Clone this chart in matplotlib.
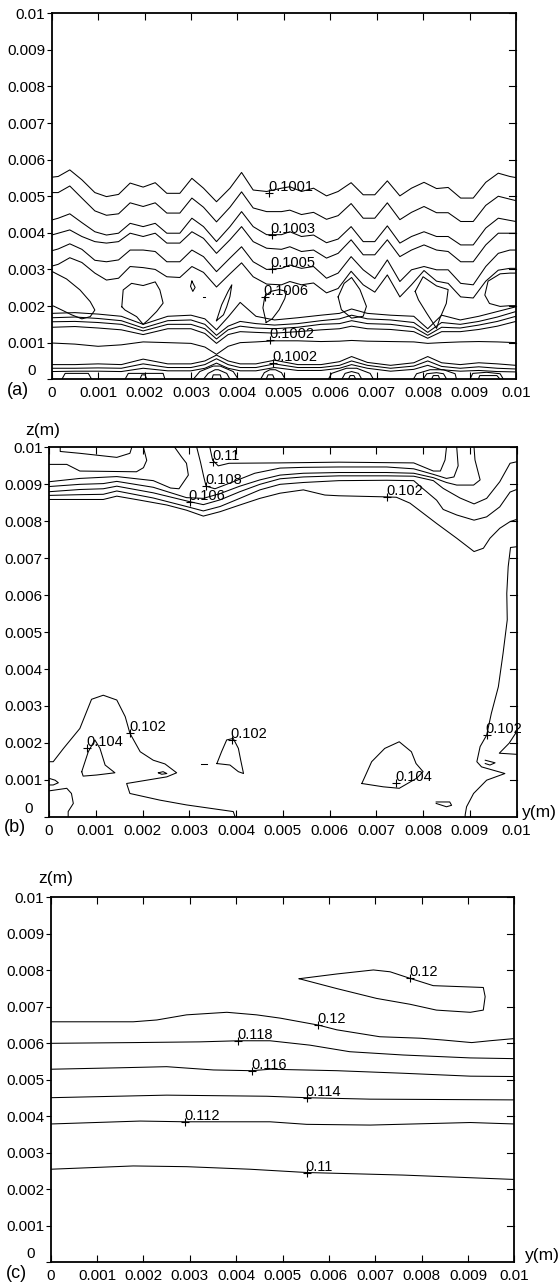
import matplotlib
matplotlib.use('Agg')
import matplotlib.pyplot as plt
import numpy as np

plt.rcParams['font.family'] = ['Liberation Sans', 'DejaVu Sans']

# all coordinates in mm, converted to m when drawn
ticks = [0, 0.001, 0.002, 0.003, 0.004, 0.005, 0.006, 0.007, 0.008, 0.009, 0.01]
tick_labels = ['0', '0.001', '0.002', '0.003', '0.004', '0.005',
               '0.006', '0.007', '0.008', '0.009', '0.01']

# ---------------- panel (a) ----------------
a_y = [0, 0.14, 0.39, 0.65, 0.93, 1.18, 1.44, 1.69, 1.97, 2.23,
       2.48, 2.76, 3.02, 3.27, 3.55, 3.84, 4.09, 4.34, 4.63, 4.95,
       5.13, 5.38, 5.64, 5.92, 6.17, 6.45, 6.71, 6.96, 7.23, 7.50,
       7.75, 8.02, 8.29, 8.54, 8.81, 9.08, 9.35, 9.62, 9.87, 10]
a_z1 = [5.52, 5.54, 5.72, 5.45, 5.10, 4.99, 5.05, 5.36, 5.25, 5.37,
        5.08, 5.08, 5.49, 5.22, 4.85, 5.22, 5.65, 5.17, 5.13, 5.22,
        5.26, 5.13, 5.22, 5.01, 5.13, 5.37, 5.04, 5.04, 5.42, 5.01,
        5.22, 5.38, 5.21, 5.24, 4.95, 4.95, 5.38, 5.63, 5.54, 5.51]
a_z2 = [5.10, 5.10, 5.28, 4.95, 4.60, 4.48, 4.52, 4.82, 4.72, 4.82,
        4.54, 4.54, 4.95, 4.70, 4.30, 4.70, 5.12, 4.68, 4.58, 4.58,
        4.62, 4.50, 4.56, 4.37, 4.47, 4.80, 4.40, 4.40, 4.82, 4.36,
        4.56, 4.72, 4.55, 4.55, 4.31, 4.31, 4.75, 5.00, 4.92, 4.88]
a_z3 = [4.35, 4.40, 4.52, 4.28, 4.03, 3.94, 3.99, 4.26, 4.17, 4.26,
        3.99, 3.99, 4.40, 4.17, 3.76, 4.17, 4.58, 4.17, 3.95, 3.95,
        4.03, 3.90, 3.94, 3.73, 3.83, 4.17, 3.76, 3.76, 4.19, 3.72,
        3.90, 4.03, 3.90, 3.90, 3.67, 3.67, 4.13, 4.40, 4.34, 4.31]
a_z4 = [3.94, 3.99, 4.08, 3.90, 3.76, 3.72, 3.76, 3.99, 3.90, 3.99,
        3.72, 3.72, 4.03, 3.85, 3.44, 3.81, 4.17, 3.76, 3.58, 3.55,
        3.62, 3.49, 3.53, 3.31, 3.44, 3.81, 3.40, 3.40, 3.81, 3.35,
        3.53, 3.67, 3.53, 3.49, 3.21, 3.21, 3.67, 3.99, 3.99, 3.99]
a_z5 = [3.51, 3.56, 3.70, 3.55, 3.25, 3.21, 3.26, 3.53, 3.53, 3.49,
        3.21, 3.21, 3.53, 3.35, 2.94, 3.31, 3.62, 3.21, 3.00, 3.03,
        3.12, 3.03, 3.08, 2.76, 2.90, 3.35, 2.99, 2.75, 3.26, 2.67,
        2.99, 3.08, 2.99, 2.99, 2.62, 2.58, 3.08, 3.44, 3.53, 3.53]
a_z6 = [3.09, 3.14, 3.32, 3.19, 2.90, 2.71, 2.76, 3.08, 3.05, 3.00,
        2.80, 2.78, 3.08, 2.92, 2.52, 2.88, 3.18, 2.80, 2.60, 2.58,
        2.67, 2.58, 2.63, 2.36, 2.48, 2.95, 2.58, 2.38, 2.85, 2.25,
        2.58, 2.97, 2.68, 2.62, 2.25, 2.22, 2.68, 2.98, 3.03, 3.03]

# lower band, sampled on a coarser set of positions
b_y = [0, 0.5, 1.0, 1.5, 1.97, 2.5, 3.0, 3.3, 3.55, 3.8, 4.06, 4.4, 4.8,
       5.3, 5.8, 6.2, 6.46, 6.8, 7.3, 7.8, 8.1, 8.4, 8.8, 9.2, 9.6, 10]
band1 = [1.80, 1.82, 1.78, 1.72, 1.50, 1.72, 1.75, 1.65, 1.35, 1.70, 2.10, 1.72, 1.62,
         1.68, 1.75, 1.80, 1.92, 1.80, 1.75, 1.72, 1.38, 1.75, 1.62, 1.72, 1.85, 1.98]
band2 = [1.68, 1.70, 1.66, 1.60, 1.40, 1.60, 1.62, 1.50, 1.20, 1.45, 1.58, 1.52, 1.48,
         1.52, 1.60, 1.65, 1.75, 1.65, 1.62, 1.55, 1.28, 1.55, 1.50, 1.58, 1.70, 1.85]
band3 = [1.57, 1.58, 1.55, 1.50, 1.32, 1.50, 1.50, 1.38, 1.10, 1.35, 1.45, 1.40, 1.38,
         1.42, 1.50, 1.52, 1.60, 1.52, 1.50, 1.42, 1.20, 1.42, 1.40, 1.48, 1.58, 1.72]
band4 = [1.42, 1.44, 1.40, 1.35, 1.22, 1.38, 1.38, 1.25, 0.98, 1.22, 1.30, 1.28, 1.26,
         1.30, 1.35, 1.38, 1.45, 1.38, 1.36, 1.30, 1.12, 1.30, 1.30, 1.36, 1.45, 1.58]
band5 = [0.99, 0.96, 0.90, 0.94, 1.02, 1.00, 0.98, 0.88, 0.68, 0.90, 1.00, 1.02, 1.05,
         1.05, 1.03, 1.04, 1.06, 1.04, 1.03, 1.02, 0.98, 1.00, 1.02, 1.03, 1.02, 1.00]
bot1 = [0.40, 0.40, 0.42, 0.40, 0.55, 0.42, 0.42, 0.50, 0.66, 0.50, 0.42, 0.42, 0.52,
        0.40, 0.40, 0.48, 0.62, 0.46, 0.38, 0.45, 0.62, 0.45, 0.40, 0.45, 0.42, 0.38]
bot2 = [0.30, 0.30, 0.31, 0.30, 0.42, 0.32, 0.32, 0.40, 0.56, 0.40, 0.32, 0.32, 0.42,
        0.32, 0.32, 0.38, 0.50, 0.38, 0.30, 0.36, 0.50, 0.35, 0.30, 0.34, 0.30, 0.28]
bot3 = [0.21, 0.22, 0.22, 0.21, 0.30, 0.23, 0.23, 0.30, 0.44, 0.30, 0.23, 0.23, 0.32,
        0.24, 0.24, 0.30, 0.40, 0.30, 0.22, 0.27, 0.38, 0.26, 0.22, 0.24, 0.21, 0.20]

# closed pieces between the bands
a_loops = [
    ([0, 0.32, 0.61, 0.83, 0.93, 0.83, 0.65, 0.43, 0.22, 0.04, 0],
     [2.95, 2.74, 2.44, 2.12, 1.89, 1.71, 1.65, 1.76, 1.89, 2.00, 2.00]),
    ([1.51, 1.54, 1.72, 1.97, 2.23, 2.33, 2.40, 2.26, 2.08, 1.97, 1.83, 1.58, 1.51],
     [1.98, 2.44, 2.62, 2.56, 2.66, 2.44, 2.08, 1.85, 1.62, 1.50, 1.71, 1.89, 1.98]),
    ([3.02, 3.09, 3.04, 2.99, 3.02], [2.68, 2.51, 2.40, 2.54, 2.68]),
    ([3.26, 3.30], [2.24, 2.24]),
    ([3.55, 3.66, 3.80, 3.88, 3.84, 3.77, 3.70, 3.55],
     [1.60, 2.03, 2.40, 2.58, 2.26, 1.98, 1.76, 1.60]),
    ([4.62, 4.55, 4.59, 4.72, 4.90, 5.06, 5.02, 4.90, 4.75, 4.62],
     [1.55, 1.95, 2.26, 2.40, 2.45, 2.40, 2.20, 1.90, 1.65, 1.55]),
    ([6.17, 6.30, 6.46, 6.64, 6.78, 6.71, 6.46, 6.24, 6.17],
     [2.25, 2.62, 2.78, 2.45, 1.99, 1.72, 1.67, 1.90, 2.25]),
    ([7.83, 8.00, 8.29, 8.54, 8.50, 8.36, 8.29, 8.08, 7.90, 7.83],
     [2.40, 2.80, 2.55, 2.45, 2.07, 1.66, 1.39, 1.80, 2.17, 2.40]),
    ([10, 9.87, 9.66, 9.40, 9.33, 9.43, 9.66, 9.87, 10],
     [2.90, 2.90, 2.88, 2.68, 2.30, 2.07, 1.99, 2.01, 2.01]),
]
# small shapes standing on the bottom wall
a_floor = [
    ([0.22, 0.29, 0.79, 0.86], [0, 0.16, 0.16, 0]),
    ([1.58, 1.65, 2.40, 2.44], [0, 0.16, 0.16, 0]),
    ([1.90, 1.94, 2.01, 2.05], [0, 0.12, 0.12, 0]),
    ([3.05, 3.19, 3.48, 3.63, 3.91, 4.02], [0, 0.21, 0.36, 0.36, 0.21, 0]),
    ([3.27, 3.37, 3.52, 3.59, 3.77, 3.84], [0, 0.16, 0.26, 0.26, 0.16, 0]),
    ([3.45, 3.48, 3.63, 3.66], [0, 0.12, 0.12, 0]),
    ([4.50, 4.58, 4.70, 4.82, 4.95, 5.03], [0, 0.18, 0.26, 0.26, 0.18, 0]),
    ([4.62, 4.66, 4.76, 4.80], [0, 0.12, 0.12, 0]),
    ([5.96, 6.03, 6.35, 6.57, 6.86, 6.93], [0, 0.16, 0.30, 0.30, 0.16, 0]),
    ([6.25, 6.32, 6.46, 6.61, 6.68], [0, 0.16, 0.21, 0.16, 0]),
    ([6.39, 6.43, 6.51, 6.55], [0, 0.10, 0.10, 0]),
    ([7.79, 7.86, 8.15, 8.44, 8.69, 8.72], [0, 0.15, 0.26, 0.26, 0.15, 0]),
    ([8.00, 8.08, 8.29, 8.44, 8.51], [0, 0.15, 0.18, 0.15, 0]),
    ([8.18, 8.22, 8.33, 8.36], [0, 0.10, 0.10, 0]),
    ([9.01, 9.07, 9.37, 9.66, 9.73], [0, 0.16, 0.19, 0.15, 0]),
    ([9.19, 9.22, 9.59, 9.66], [0, 0.10, 0.10, 0]),
]
a_lab_y = [4.69, 4.74, 4.74, 4.59, 4.71, 4.77]
a_lab_z = [5.10, 3.95, 3.00, 2.26, 1.06, 0.44]
a_lab_val = [0.1001, 0.1003, 0.1005, 0.1006, 0.1002, 0.1002]

# ---------------- panel (b) ----------------
b_tl_small = ([0.24, 0.24, 0.66, 1.45, 1.73, 1.77], [10, 9.89, 9.84, 9.73, 9.84, 10])
b_tl = ([0, 0.38, 0.66, 1.87, 2.02, 2.09, 2.02], [9.54, 9.54, 9.36, 9.34, 9.45, 9.65, 10])
b_t3 = ([0, 0.66, 1.45, 2.23, 2.60, 2.78, 2.98, 2.94, 2.83, 2.69],
        [9.07, 9.16, 9.21, 9.10, 8.90, 8.88, 9.25, 9.57, 9.75, 10])
b_011 = ([3.44, 3.50, 3.62, 3.85, 4.90, 6.20, 7.80, 8.22, 8.37, 8.47, 8.50],
         [10, 9.65, 9.50, 9.57, 9.58, 9.60, 9.58, 9.36, 9.36, 9.66, 10])
b_0108 = ([3.16, 3.24, 3.31, 3.36, 3.55, 3.90, 4.40, 4.94, 5.44, 6.20, 7.22, 7.80, 8.22,
           8.50, 8.66, 8.75, 8.72],
          [10, 9.60, 9.20, 8.95, 8.88, 9.05, 9.30, 9.44, 9.46, 9.47, 9.47, 9.42, 9.27,
           9.16, 9.20, 9.50, 10])
b_la = ([0, 0.66, 1.16, 1.45, 2.23, 2.94, 3.30, 3.66, 4.08, 4.51, 4.94, 5.44, 6.20, 7.22,
         7.80, 8.22, 8.50, 8.72, 9.08, 9.22, 9.11, 9.09],
        [8.94, 9.00, 9.02, 9.08, 8.92, 8.64, 8.62, 8.75, 8.95, 9.12, 9.25, 9.30, 9.32, 9.32,
         9.30, 9.18, 9.05, 8.98, 8.98, 9.12, 9.66, 10])
b_lb = ([0, 0.66, 1.16, 1.45, 2.23, 3.01, 3.30, 3.66, 4.08, 4.51, 4.94, 5.44, 6.20, 7.22,
         7.80, 8.22, 8.43, 8.79, 9.09, 9.36, 9.64, 9.86, 10],
        [8.80, 8.86, 8.88, 8.95, 8.77, 8.53, 8.45, 8.58, 8.80, 9.00, 9.15, 9.20, 9.23, 9.23,
         9.22, 9.10, 8.89, 8.63, 8.47, 8.62, 9.07, 9.57, 9.61])
b_lc = ([0, 0.66, 1.16, 1.45, 2.23, 2.94, 3.30, 3.66, 4.08, 4.51, 4.94, 5.44, 6.20, 7.22,
         7.80, 8.00, 8.29, 8.43, 8.72, 9.09, 9.36, 9.64, 9.86, 10],
        [8.70, 8.72, 8.73, 8.82, 8.63, 8.40, 8.28, 8.40, 8.62, 8.85, 9.00, 9.05, 9.10, 9.11,
         9.10, 8.88, 8.57, 8.32, 8.17, 8.03, 8.12, 8.39, 8.79, 8.86])
b_0102 = ([0, 1.16, 1.45, 1.95, 2.52, 2.94, 3.30, 3.66, 4.08, 4.51, 4.94, 5.44, 5.90, 6.20,
           7.22, 7.43, 7.72, 8.29, 8.72, 9.09, 9.29, 9.43, 9.64, 9.86, 10],
          [8.59, 8.59, 8.68, 8.57, 8.44, 8.30, 8.14, 8.26, 8.44, 8.62, 8.76, 8.85, 8.71, 8.69,
           8.66, 8.65, 8.49, 7.94, 7.54, 7.18, 7.27, 7.54, 7.81, 7.99, 8.05])
b_right = ([10, 9.87, 9.82, 9.79, 9.80, 9.71, 9.61, 9.46, 9.36, 9.22, 9.15, 9.25, 9.75,
            9.36, 9.08, 8.93, 8.90, 8.90],
           [7.31, 7.29, 6.77, 6.05, 5.33, 4.42, 3.52, 2.80, 2.21, 1.90, 1.49, 1.35, 1.17,
            0.99, 0.63, 0.27, 0.05, 0])
b_hump = ([0, 0.09, 0.31, 0.66, 0.91, 1.16, 1.45, 1.63, 1.73, 1.95, 2.23, 2.48, 2.73, 2.52,
           1.66, 1.73, 2.37, 2.94, 3.94, 3.98],
          [1.49, 1.49, 1.85, 2.39, 3.18, 3.29, 3.16, 2.71, 2.26, 1.76, 1.53, 1.43, 1.19, 1.08,
           0.90, 0.63, 0.45, 0.32, 0.14, 0])
b_loops = [
    ([0.70, 0.84, 0.98, 1.09, 1.20, 1.41, 1.02, 0.73, 0.70],
     [1.22, 1.76, 2.08, 1.85, 1.40, 1.19, 1.13, 1.10, 1.22]),
    ([2.34, 2.44, 2.52, 2.41, 2.34], [1.19, 1.22, 1.17, 1.15, 1.19]),
    ([0, 0.13, 0.20, 0.09, 0], [1.04, 0.99, 0.92, 0.86, 0.86]),
    ([0, 0.38, 0.48, 0.52, 0.41, 0.41], [0.70, 0.77, 0.63, 0.36, 0.14, 0]),
    ([3.26, 3.37], [1.44, 1.44]),
    ([3.59, 3.69, 3.80, 3.94, 4.05, 4.10, 4.16, 4.05, 3.87, 3.59],
     [1.44, 1.76, 2.08, 2.12, 1.85, 1.53, 1.17, 1.22, 1.40, 1.44]),
    ([6.69, 6.90, 7.18, 7.49, 7.75, 7.85, 8.00, 7.86, 7.49, 7.15, 6.69],
     [0.90, 1.49, 1.85, 2.03, 1.76, 1.44, 1.22, 1.04, 0.77, 0.81, 0.90]),
    ([8.28, 8.57, 8.61, 8.50, 8.28], [0.40, 0.40, 0.31, 0.27, 0.36]),
    ([9.33, 9.54, 9.43, 9.33], [1.53, 1.46, 1.40, 1.44]),
    ([10, 9.84, 9.63, 10], [2.30, 1.99, 1.72, 1.69]),
]
b_lab_y = [3.51, 3.36, 3.01, 7.23, 0.82, 1.73, 3.91, 7.43, 9.36]
b_lab_z = [9.61, 8.95, 8.53, 8.66, 1.87, 2.26, 2.07, 0.92, 2.21]
b_lab_val = [0.11, 0.108, 0.106, 0.102, 0.104, 0.102, 0.102, 0.104, 0.102]

# ---------------- panel (c) ----------------
c_0120a = ([0, 1.78, 2.29, 2.93, 3.80, 4.44, 4.95, 5.77, 6.17, 7.10, 7.97, 8.47, 9.08, 9.47, 10],
           [6.59, 6.59, 6.64, 6.78, 6.85, 6.78, 6.69, 6.50, 6.37, 6.18, 6.14, 6.09, 6.02, 6.07, 6.13])
c_0118 = ([0, 1.78, 3.22, 4.05, 4.73, 5.59, 6.45, 7.60, 9.05, 10],
          [6.00, 6.02, 6.04, 6.07, 6.07, 5.95, 5.77, 5.68, 5.60, 5.58])
c_0116 = ([0, 1.50, 2.50, 3.51, 4.34, 4.73, 6.17, 7.60, 9.05, 10],
          [5.29, 5.33, 5.36, 5.27, 5.25, 5.29, 5.25, 5.18, 5.10, 5.09])
c_0114 = ([0, 2.50, 4.66, 5.52, 6.89, 10],
          [4.51, 4.58, 4.55, 4.51, 4.47, 4.45])
c_0112 = ([0, 1.93, 2.90, 4.73, 5.52, 6.89, 9.05, 10],
          [3.79, 3.87, 3.85, 3.85, 3.78, 3.76, 3.83, 3.79])
c_0110 = ([0, 1.78, 2.93, 4.30, 5.52, 7.60, 10],
          [2.55, 2.64, 2.62, 2.55, 2.46, 2.39, 2.27])
c_0120b = ([5.36, 6.17, 6.96, 7.32, 7.75, 8.25, 9.33, 9.37, 9.33, 9.05, 8.32, 7.75, 7.03, 6.17, 5.36],
           [7.77, 7.90, 8.01, 7.96, 7.78, 7.58, 7.53, 7.28, 6.91, 6.85, 6.91, 7.07, 7.23, 7.50, 7.77])
c_lab_y = [7.75, 5.77, 4.05, 4.34, 5.52, 2.90, 5.52]
c_lab_z = [7.78, 6.50, 6.07, 5.25, 4.51, 3.85, 2.46]
c_lab_val = [0.12, 0.12, 0.118, 0.116, 0.114, 0.112, 0.11]

MM = 1e-3
fig = plt.figure(figsize=(5.6, 12.86), dpi=100)
ax_a = fig.add_axes([0.0923, 0.7051, 0.829, 0.2846])
ax_b = fig.add_axes([0.0875, 0.3649, 0.835, 0.2872])
ax_c = fig.add_axes([0.0905, 0.01843, 0.828, 0.2838])


def line(ax, y, z):
    ax.plot(np.array(y) * MM, np.array(z) * MM, color='black', lw=0.75)


def labels(ax, ys, zs, vals):
    for y, z, v in zip(ys, zs, vals):
        ax.plot(y * MM, z * MM, marker='+', color='black', ms=6, mew=0.8)
        ax.annotate(str(v), (y * MM, z * MM), xytext=(-1, 2), textcoords='offset pixels',
                    ha='left', va='baseline', fontsize=10.5)


def frame(ax, tag):
    ax.set_xlim(0, 0.01)
    ax.set_ylim(0, 0.01)
    ax.set_xticks(ticks)
    ax.set_xticklabels(tick_labels)
    ax.set_yticks(ticks)
    ax.set_yticklabels([''] + tick_labels[1:])
    ax.tick_params(axis='x', direction='in', length=5, width=0.8, top=True,
                   labelsize=11, pad=5)
    ax.tick_params(axis='y', direction='out', length=3.5, width=0.8, right=False,
                   labelsize=11, pad=1)
    for t in ticks[1:]:
        ax.plot([1, 0.985], [t / 0.01, t / 0.01], transform=ax.transAxes,
                color='black', lw=0.8, clip_on=False)
    for s in ax.spines.values():
        s.set_linewidth(1.3)
    ax.annotate('0', (0, 0), xycoords='axes fraction', xytext=(-20, 8),
                textcoords='offset pixels', ha='center', va='center', fontsize=11)
    ax.annotate(tag, (0, 0), xycoords='axes fraction', xytext=(-34, -11),
                textcoords='offset pixels', ha='center', va='center', fontsize=13)


# (a)
for zz in [a_z1, a_z2, a_z3, a_z4, a_z5, a_z6]:
    line(ax_a, a_y, zz)
for zz in [band1, band2, band3, band4, band5, bot1, bot2, bot3]:
    line(ax_a, b_y, zz)
for yy, zz in a_loops + a_floor:
    line(ax_a, yy, zz)
labels(ax_a, a_lab_y, a_lab_z, a_lab_val)
frame(ax_a, '(a)')

# (b)
for yy, zz in [b_tl_small, b_tl, b_t3, b_011, b_0108, b_la, b_lb, b_lc, b_0102,
               b_right, b_hump] + b_loops:
    line(ax_b, yy, zz)
labels(ax_b, b_lab_y, b_lab_z, b_lab_val)
frame(ax_b, '(b)')
ax_b.annotate('z(m)', (0, 1), xycoords='axes fraction', xytext=(-6, 17),
              textcoords='offset pixels', ha='center', va='center', fontsize=12.5)
ax_b.annotate('y(m)', (1, 0), xycoords='axes fraction', xytext=(23, 4),
              textcoords='offset pixels', ha='center', va='center', fontsize=12.5)

# (c)
for yy, zz in [c_0120a, c_0118, c_0116, c_0114, c_0112, c_0110, c_0120b]:
    line(ax_c, yy, zz)
labels(ax_c, c_lab_y, c_lab_z, c_lab_val)
frame(ax_c, '(c)')
ax_c.annotate('z(m)', (0, 1), xycoords='axes fraction', xytext=(5, 19),
              textcoords='offset pixels', ha='center', va='center', fontsize=12.5)
ax_c.annotate('y(m)', (1, 0), xycoords='axes fraction', xytext=(28, 7),
              textcoords='offset pixels', ha='center', va='center', fontsize=12.5)

fig.savefig('out.png', dpi=100)
